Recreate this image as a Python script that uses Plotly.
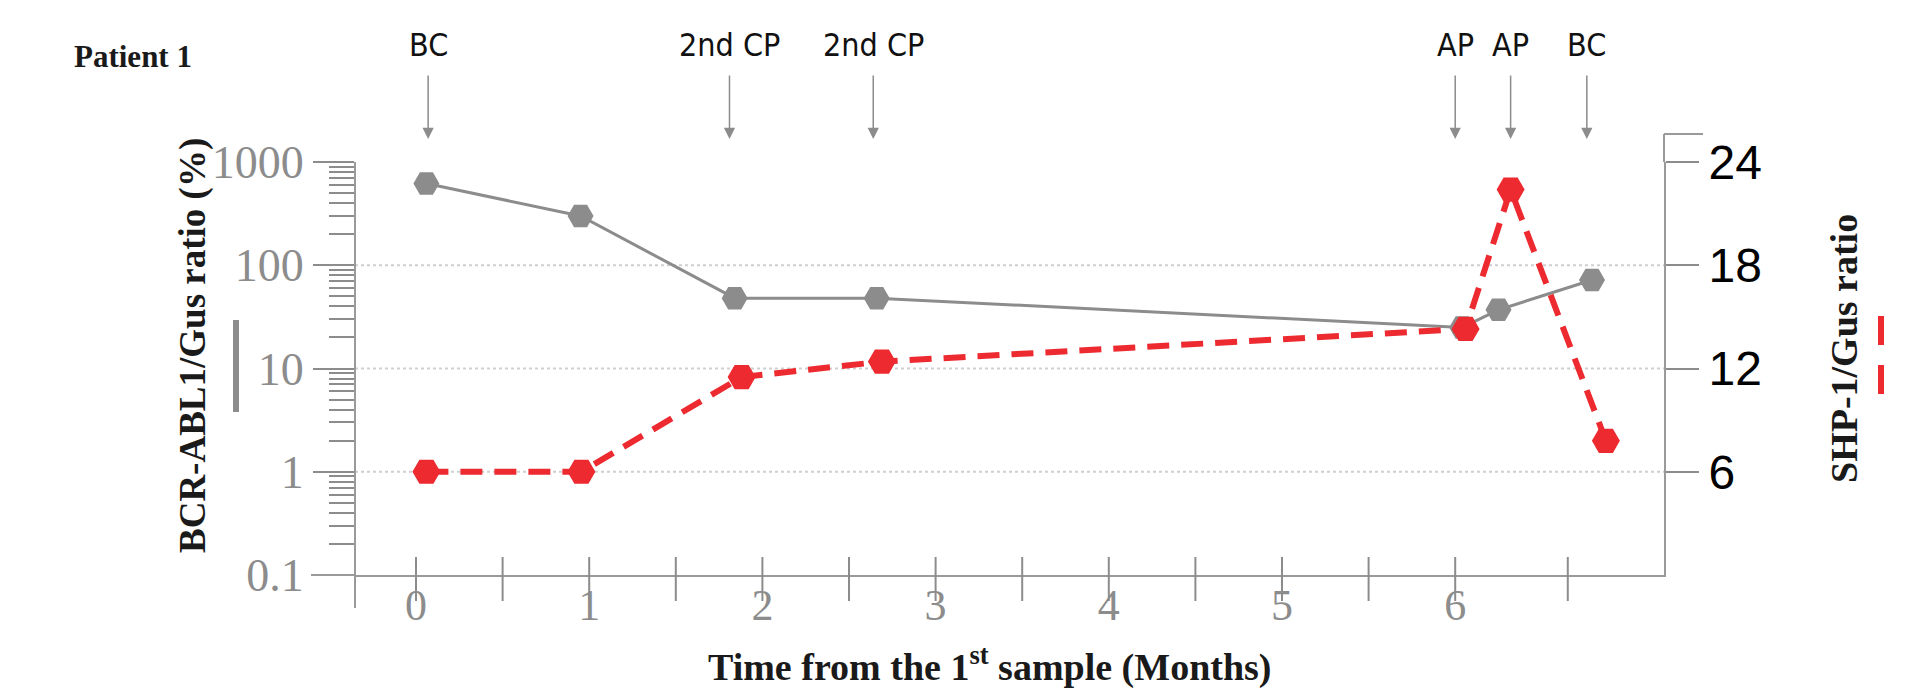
import plotly.graph_objects as go

# ---------------- data ----------------
bcr_months = [0.06, 0.95, 1.84, 2.66, 6.04, 6.25, 6.79]
bcr_abl1 = [620, 300, 48, 48, 25, 37, 72]          # BCR-ABL1/Gus ratio (%)

shp_months = [0.06, 0.955, 1.88, 2.69, 6.06, 6.32, 6.87]
shp1 = [6.0, 6.0, 11.5, 12.4, 14.3, 22.4, 7.8]     # SHP-1/Gus ratio

event_months = [0.07, 1.81, 2.64, 6.0, 6.32, 6.76]
event_labels = ["BC", "2nd CP", "2nd CP", "AP", "AP", "BC"]

x_major = [0, 1, 2, 3, 4, 5, 6]
x_half = [0.5, 1.5, 2.5, 3.5, 4.5, 5.5, 6.65]
left_ticks = [0.1, 1, 10, 100, 1000]
left_ticktext = ["0.1", "1", "10", "100", "1000"]
right_ticks = [6, 12, 18, 24]
grid_right = [6, 12, 18]

# ---------------- layout geometry ----------------
W, H = 1926, 689
L, R, T, B = 347, 1656, 154, 567
month_px = 173.2
zero_px = 408


def px(xp):
    return (xp - L) / (R - L)


def py(yp):
    return (B - yp) / (B - T)


GRAY = "#8c8c8c"
AXIS = "#9a9a9a"
RED = "#ec2a30"
SERIF = "Liberation Serif, Times New Roman, serif"
SANS = "Liberation Sans, Arial, sans-serif"
NARROW = "Liberation Sans Narrow, DejaVu Sans Condensed, Arial Narrow, sans-serif"

fig = go.Figure()
fig.add_trace(go.Scatter(
    x=bcr_months, y=bcr_abl1, mode="lines+markers", yaxis="y",
    line=dict(color=GRAY, width=3),
    marker=dict(symbol="hexagon2", size=26, color=GRAY),
    name="BCR-ABL1/Gus ratio (%)",
))
fig.add_trace(go.Scatter(
    x=shp_months, y=shp1, mode="lines+markers", yaxis="y2",
    line=dict(color=RED, width=6, dash="22px,12px"),
    marker=dict(symbol="hexagon2", size=28, color=RED),
    name="SHP-1/Gus ratio",
))

x_tickvals = sorted(x_major + x_half)
x_ticktext = [str(int(v)) if v in x_major else "" for v in x_tickvals]
minor_left = [m * 10 ** e for e in range(-1, 3) for m in range(2, 10)]

fig.update_layout(
    width=W, height=H,
    margin=dict(l=L, r=W - R, t=T, b=H - B, pad=0),
    paper_bgcolor="white", plot_bgcolor="white",
    showlegend=False,
    xaxis=dict(
        range=[(L - zero_px) / month_px, (R - zero_px) / month_px],
        tickmode="array", tickvals=x_tickvals, ticktext=x_ticktext,
        ticks="", ticklabelstandoff=-10,
        showline=True, linecolor=AXIS, linewidth=2,
        showgrid=False, zeroline=False,
        tickfont=dict(family=SERIF, size=44, color=GRAY),
    ),
    yaxis=dict(
        type="log", range=[-1, 3],
        tickmode="array", tickvals=left_ticks, ticktext=left_ticktext,
        ticks="outside", ticklen=41, tickwidth=2, tickcolor=GRAY,
        minor=dict(tickmode="array", tickvals=minor_left, ticks="outside",
                   ticklen=25, tickwidth=2, tickcolor=GRAY, showgrid=False),
        showline=False, showgrid=False, zeroline=False,
        tickfont=dict(family=SERIF, size=46, color=GRAY),
    ),
    yaxis2=dict(
        overlaying="y", side="right", range=[0, 24],
        tickmode="array", tickvals=right_ticks,
        ticks="outside", ticklen=33, tickwidth=2, tickcolor=GRAY,
        showline=True, linecolor=AXIS, linewidth=2,
        showgrid=False, zeroline=False,
        tickfont=dict(family=SANS, size=48, color="black"),
    ),
)

shapes = []
# dotted gridlines
for g in grid_right:
    shapes.append(dict(type="line", xref="paper", yref="y2", x0=0, x1=1, y0=g, y1=g,
                       line=dict(color="#cfcfcf", width=2, dash="dot"), layer="below"))
# left axis line (extends below x axis)
shapes.append(dict(type="line", xref="paper", yref="paper", x0=0, x1=0, y0=py(600), y1=1,
                   line=dict(color=AXIS, width=2)))
# x axis extension to the left
shapes.append(dict(type="line", xref="paper", yref="paper", x0=px(303), x1=0, y0=0, y1=0,
                   line=dict(color=AXIS, width=2)))
# right axis extension upward
shapes.append(dict(type="line", xref="paper", yref="paper", x0=1, x1=1, y0=1, y1=py(126),
                   line=dict(color=AXIS, width=2)))
shapes.append(dict(type="line", xref="paper", yref="paper", x0=1, x1=px(1695), y0=py(126), y1=py(126),
                   line=dict(color=AXIS, width=2)))
# x ticks crossing the axis line
for v in x_tickvals:
    shapes.append(dict(type="line", xref="x", yref="paper", x0=v, x1=v, y0=py(593), y1=py(549),
                       line=dict(color=GRAY, width=2)))
# legend keys beside axis titles
shapes.append(dict(type="line", xref="paper", yref="paper", x0=px(228), x1=px(228),
                   y0=py(312), y1=py(404), line=dict(color=GRAY, width=6)))
shapes.append(dict(type="line", xref="paper", yref="paper", x0=px(1873), x1=px(1873),
                   y0=py(308), y1=py(386), line=dict(color=RED, width=6, dash="29px,20px")))
fig.update_layout(shapes=shapes)

ann = []
for m, lab in zip(event_months, event_labels):
    ann.append(dict(
        x=m, xref="x", y=py(131), yref="paper",
        text=lab, showarrow=True, ax=0, ay=37 - 131,
        arrowhead=2, arrowsize=1.5, arrowwidth=1.5, arrowcolor=GRAY,
        startstandoff=10,
        font=dict(family=NARROW, size=32, color="#111111"),
    ))
ann.append(dict(x=px(64), y=py(48), xref="paper", yref="paper", xanchor="left", yanchor="middle",
                text="<b>Patient 1</b>", showarrow=False,
                font=dict(family=SERIF, size=31, color="#1a1a1a")))
ann.append(dict(x=px(185), y=py(338), xref="paper", yref="paper", textangle=-90,
                xanchor="center", yanchor="middle",
                text="<b>BCR-ABL1/Gus ratio (%)</b>", showarrow=False,
                font=dict(family=SERIF, size=37, color="#1a1a1a")))
ann.append(dict(x=px(1836), y=py(341), xref="paper", yref="paper", textangle=-90,
                xanchor="center", yanchor="middle",
                text="<b>SHP-1/Gus ratio</b>", showarrow=False,
                font=dict(family=SERIF, size=38, color="#1a1a1a")))
ann.append(dict(x=px(982), y=py(656), xref="paper", yref="paper",
                xanchor="center", yanchor="middle",
                text="<b>Time from the 1<sup>st</sup> sample (Months)</b>", showarrow=False,
                font=dict(family=SERIF, size=38, color="#1a1a1a")))
fig.update_layout(annotations=ann)

fig.write_html("out.html")
